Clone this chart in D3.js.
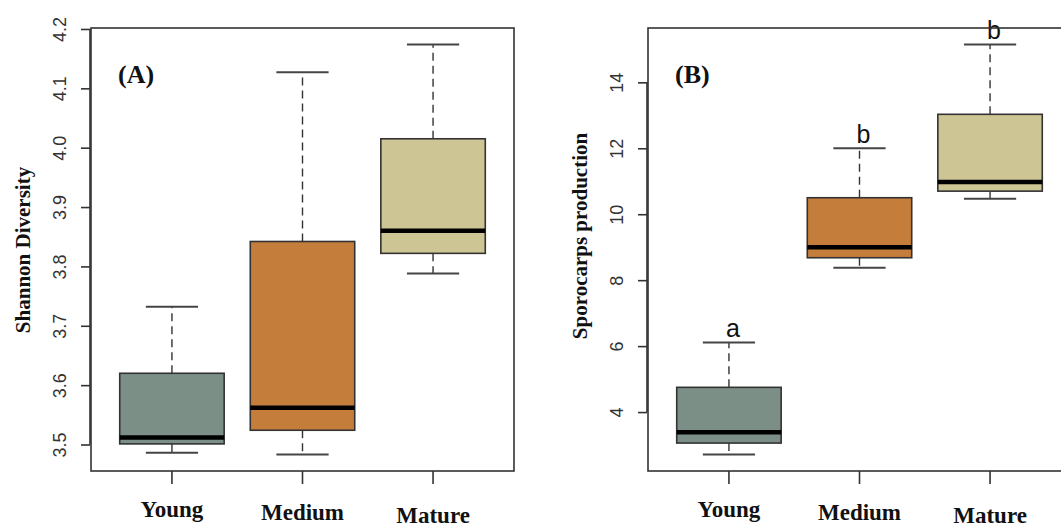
<!doctype html>
<html lang="en">
<head>
  <meta charset="utf-8">
  <title>Shannon diversity and sporocarps boxplots</title>
</head>
<body style="overflow: hidden; margin: 0; background: #fff;">
  <script src="https://cdnjs.cloudflare.com/ajax/libs/d3/7.8.5/d3.min.js"></script>

  <script type="text/javascript">

    // categories and box colours
    const groups = ["Young", "Medium", "Mature"];
    const fills = ["#7b8f86", "#c47d3b", "#cdc594"];

    // panel A: Shannon diversity  [lower whisker, Q1, median, Q3, upper whisker]
    const shannonStats = [
      [3.486, 3.501, 3.512, 3.620, 3.732],
      [3.483, 3.524, 3.562, 3.842, 4.127],
      [3.788, 3.822, 3.860, 4.015, 4.174]
    ];
    const shannonTicks = [3.5, 3.6, 3.7, 3.8, 3.9, 4.0, 4.1, 4.2];

    // panel B: sporocarps production
    const sporoStats = [
      [2.71, 3.06, 3.39, 4.75, 6.11],
      [8.38, 8.68, 9.00, 10.50, 12.00],
      [10.47, 10.70, 10.98, 13.03, 15.15]
    ];
    const sporoTicks = [4, 6, 8, 10, 12, 14];
    const sporoLetters = ["a", "b", "b"];

    var config = {
      "width": 1061,
      "height": 529,
      "top": 28,
      "bottom": 471,
      "plotWidth": 423
    }

    let svg = d3.select("body").append("svg")
      .attr("width", config.width)
      .attr("height", config.height)
      .style("display", "block");

    function panel(opts) {
      let g = svg.append("g");
      let stats = opts.stats;
      let lo = d3.min(stats, d => d[0]), hi = d3.max(stats, d => d[4]);
      let pad = (hi - lo) * 0.04;

      let x = d3.scaleLinear()
        .domain([0.38, 3.62])
        .range([opts.left, opts.left + config.plotWidth]);
      let y = d3.scaleLinear()
        .domain([lo - pad, hi + pad])
        .range([config.bottom, config.top]);

      let half = 0.4;

      // whiskers (dashed)
      stats.forEach((d, i) => {
        let cx = x(i + 1);
        g.append("line")
          .attr("x1", cx).attr("x2", cx)
          .attr("y1", y(d[3])).attr("y2", y(d[4]))
          .attr("stroke", "#333").attr("stroke-width", 1.4)
          .attr("stroke-dasharray", "8,5");
        g.append("line")
          .attr("x1", cx).attr("x2", cx)
          .attr("y1", y(d[1])).attr("y2", y(d[0]))
          .attr("stroke", "#333").attr("stroke-width", 1.4)
          .attr("stroke-dasharray", "8,5");
        // staples
        [d[0], d[4]].forEach(v => {
          g.append("line")
            .attr("x1", x(i + 1 - half / 2)).attr("x2", x(i + 1 + half / 2))
            .attr("y1", y(v)).attr("y2", y(v))
            .attr("stroke", "#444").attr("stroke-width", 2);
        });
        // box
        g.append("rect")
          .attr("x", x(i + 1 - half))
          .attr("width", x(i + 1 + half) - x(i + 1 - half))
          .attr("y", y(d[3]))
          .attr("height", y(d[1]) - y(d[3]))
          .attr("fill", fills[i])
          .attr("stroke", "#333")
          .attr("stroke-width", 1.6);
        // median
        g.append("line")
          .attr("x1", x(i + 1 - half)).attr("x2", x(i + 1 + half))
          .attr("y1", y(d[2])).attr("y2", y(d[2]))
          .attr("stroke", "#000").attr("stroke-width", 4.5);

        if (opts.letters) {
          g.append("text")
            .attr("x", cx + 4)
            .attr("y", y(d[4]) - 5)
            .attr("text-anchor", "middle")
            .style("font-family", "'Liberation Sans', Arial, sans-serif")
            .style("font-size", "25px")
            .style("fill", "#111")
            .text(opts.letters[i]);
        }
      });

      // frame
      g.append("rect")
        .attr("x", opts.left).attr("y", config.top)
        .attr("width", config.plotWidth)
        .attr("height", config.bottom - config.top)
        .attr("fill", "none")
        .attr("stroke", "#333")
        .attr("stroke-width", 1.6);

      // y axis
      let yAxis = d3.axisLeft(y)
        .tickValues(opts.ticks)
        .tickSize(9)
        .tickPadding(14)
        .tickFormat(opts.fmt);
      let ya = g.append("g")
        .attr("transform", "translate(" + (opts.left - 1) + ",0)")
        .call(yAxis);
      ya.select(".domain").remove();
      ya.selectAll(".tick line").attr("stroke", "#333").attr("stroke-width", 1.6);
      ya.selectAll(".tick text")
        .attr("x", -30).attr("dy", 0)
        .attr("text-anchor", "middle")
        .attr("dominant-baseline", "central")
        .attr("transform", "rotate(-90," + (-30) + ",0)")
        .style("font-family", "'Liberation Sans', Arial, sans-serif")
        .style("font-size", "18px")
        .style("fill", "#333");
      g.append("line")
        .attr("x1", opts.left - 1).attr("x2", opts.left - 1)
        .attr("y1", y(opts.ticks[0])).attr("y2", y(opts.ticks[opts.ticks.length - 1]))
        .attr("stroke", "#333").attr("stroke-width", 1.6);

      // x axis ticks
      groups.forEach((name, i) => {
        g.append("line")
          .attr("x1", x(i + 1)).attr("x2", x(i + 1))
          .attr("y1", config.bottom).attr("y2", config.bottom + 13)
          .attr("stroke", "#333").attr("stroke-width", 1.6);
        g.append("text")
          .attr("x", x(i + 1))
          .attr("y", 517 + i * 3)
          .attr("text-anchor", "middle")
          .style("font-family", "'Liberation Serif', 'Times New Roman', serif")
          .style("font-weight", "bold")
          .style("font-size", "23px")
          .style("fill", "#111")
          .text(name);
      });

      // y title
      g.append("text")
        .attr("transform", "translate(" + opts.titleX + "," + opts.titleY + ") rotate(-90)")
        .attr("text-anchor", "middle")
        .attr("dominant-baseline", "central")
        .style("font-family", "'Liberation Serif', 'Times New Roman', serif")
        .style("font-weight", "bold")
        .style("font-size", "21px")
        .style("fill", "#111")
        .text(opts.title);

      // panel tag
      g.append("text")
        .attr("x", opts.left + 27)
        .attr("y", 83)
        .style("font-family", "'Liberation Serif', 'Times New Roman', serif")
        .style("font-weight", "bold")
        .style("font-size", "26px")
        .style("fill", "#111")
        .text(opts.tag);
    }

    panel({
      left: 91, stats: shannonStats, ticks: shannonTicks,
      fmt: d3.format(".1f"), title: "Shannon Diversity",
      titleX: 23, titleY: 250, tag: "(A)"
    });
    panel({
      left: 648, stats: sporoStats, ticks: sporoTicks,
      fmt: d3.format("d"), title: "Sporocarps production",
      titleX: 580, titleY: 236, tag: "(B)", letters: sporoLetters
    });
  </script>
</body>
</html>
